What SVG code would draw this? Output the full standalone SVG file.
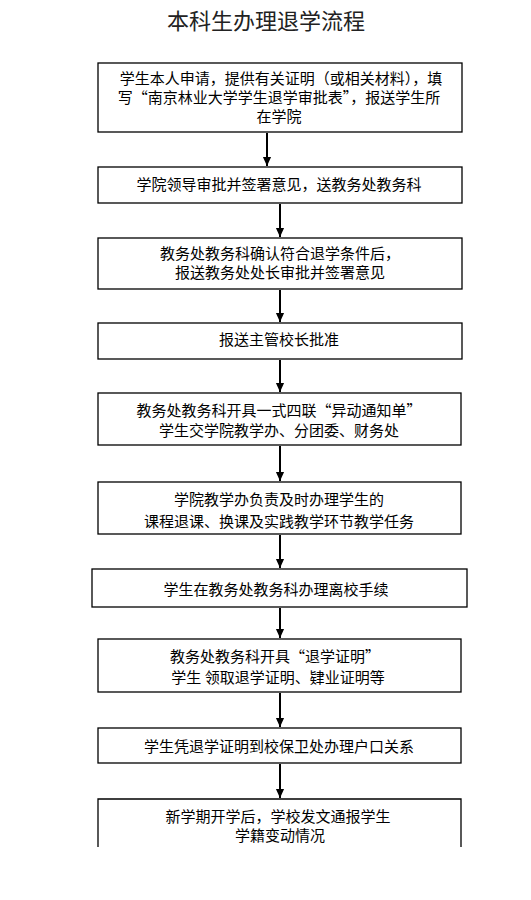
<svg xmlns="http://www.w3.org/2000/svg" width="531" height="900" viewBox="0 0 531 900">
<style>
.box, .open { fill: none; stroke: #000; stroke-width: 1.3; }
text { font-family: "Noto Sans CJK SC", "Noto Sans", sans-serif; font-size: 15px; fill: #000; text-anchor: middle; }
.title { font-size: 22px; fill: #222; }
.conn line { stroke: #000; stroke-width: 2; }
</style>
<defs>
<marker id="arrd" markerUnits="userSpaceOnUse" markerWidth="10" markerHeight="12" refX="11" refY="5" orient="auto" viewBox="0 0 12 10">
<path d="M0,0 L11,5 L0,10 Z" fill="#000"/>
</marker>
</defs>
<rect x="0" y="0" width="531" height="900" fill="#fff"/>
<text class="title" x="266" y="29">本科生办理退学流程</text>
<g id="n1"><rect class="box" x="98" y="63" width="364" height="69"/>
<text x="281" y="84">学生本人申请，提供有关证明（或相关材料），填</text>
<text x="279" y="103">写“南京林业大学学生退学审批表”，报送学生所</text>
<text x="279" y="122">在学院</text></g>
<g id="n2"><rect class="box" x="98" y="167" width="364" height="36"/>
<text x="279" y="190">学院领导审批并签署意见，送教务处教务科</text></g>
<g id="n3"><rect class="box" x="98" y="238" width="364" height="51"/>
<text x="280" y="259">教务处教务科确认符合退学条件后，</text>
<text x="280" y="278">报送教务处处长审批并签署意见</text></g>
<g id="n4"><rect class="box" x="98" y="323" width="364" height="36"/>
<text x="279" y="345">报送主管校长批准</text></g>
<g id="n5"><rect class="box" x="98" y="393" width="363" height="52"/>
<text x="279" y="416">教务处教务科开具一式四联“异动通知单”</text>
<text x="279" y="436">学生交学院教学办、分团委、财务处</text></g>
<g id="n6"><rect class="box" x="98" y="482" width="363" height="52"/>
<text x="279" y="505">学院教学办负责及时办理学生的</text>
<text x="279" y="527">课程退课、换课及实践教学环节教学任务</text></g>
<g id="n7"><rect class="box" x="92" y="569" width="375" height="38"/>
<text x="276" y="595">学生在教务处教务科办理离校手续</text></g>
<g id="n8"><rect class="box" x="98" y="639" width="363" height="53"/>
<text x="275" y="662">教务处教务科开具“退学证明”</text>
<text x="278" y="683">学生 领取退学证明、肄业证明等</text></g>
<g id="n9"><rect class="box" x="98" y="728" width="363" height="35"/>
<text x="279" y="752">学生凭退学证明到校保卫处办理户口关系</text></g>
<g id="n10"><path class="open" d="M98,847 V799 H461 V847"/>
<text x="278" y="822">新学期开学后，学校发文通报学生</text>
<text x="280" y="841">学籍变动情况</text></g>
<g class="conn">
<line x1="267" y1="133" x2="267" y2="166" marker-end="url(#arrd)"/>
<line x1="280" y1="204" x2="280" y2="237" marker-end="url(#arrd)"/>
<line x1="280" y1="290" x2="280" y2="322" marker-end="url(#arrd)"/>
<line x1="280" y1="360" x2="280" y2="392" marker-end="url(#arrd)"/>
<line x1="280" y1="446" x2="280" y2="481" marker-end="url(#arrd)"/>
<line x1="280" y1="535" x2="280" y2="568" marker-end="url(#arrd)"/>
<line x1="280" y1="608" x2="280" y2="638" marker-end="url(#arrd)"/>
<line x1="280" y1="693" x2="280" y2="727" marker-end="url(#arrd)"/>
<line x1="280" y1="764" x2="280" y2="798" marker-end="url(#arrd)"/>
</g>
</svg>
